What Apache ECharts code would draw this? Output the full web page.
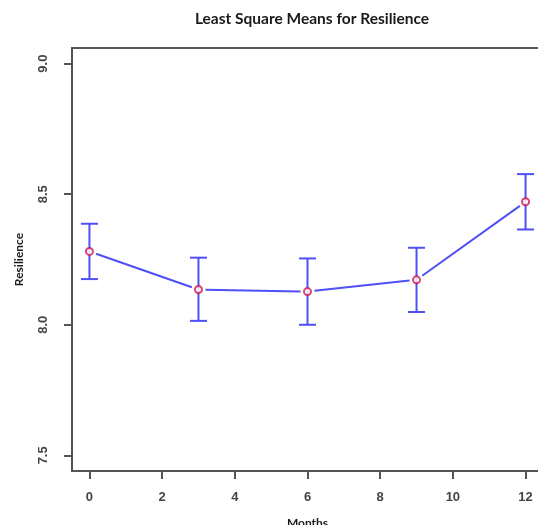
<!DOCTYPE html>
<html>
<head>
<meta charset="utf-8">
<script src="https://cdn.jsdelivr.net/npm/echarts@6/dist/echarts.min.js"></script>
<style>html,body{margin:0;padding:0;background:#fff;}#c{width:538px;height:525px;}</style>
</head>
<body>
<div id="c"></div>
<script>
var months = [0, 3, 6, 9, 12];
var lsMeans = [8.281, 8.135, 8.127, 8.172, 8.471];
var lowerCI = [8.175, 8.015, 8.000, 8.049, 8.365];
var upperCI = [8.387, 8.257, 8.254, 8.295, 8.577];
var xTicks = [0, 2, 4, 6, 8, 10, 12];
var yTicks = [7.5, 8.0, 8.5, 9.0];

var blue = '#4f4ff8';
var red = '#d0154f';
var axisGray = '#555555';

var points = months.map(function (m, i) { return [m, lsMeans[i]]; });
var bars = months.map(function (m, i) { return [m, lowerCI[i], upperCI[i]]; });
var segs = [];
for (var i = 0; i < months.length - 1; i++) {
  segs.push([months[i], lsMeans[i], months[i + 1], lsMeans[i + 1]]);
}

var chart = echarts.init(document.getElementById('c'), null, {renderer: 'canvas'});
chart.setOption({
  animation: false,
  backgroundColor: '#ffffff',
  title: {
    text: 'Least Square Means for Resilience',
    left: 307, textAlign: 'center', top: 6,
    textStyle: {fontFamily: 'Lato', fontWeight: 'bold', fontSize: 15.5, color: '#1a1a1a'}
  },
  grid: {left: 72, right: -5, top: 48, bottom: 54, outerBoundsMode: 'none', containLabel: false,
    show: true, borderColor: axisGray, borderWidth: 2, backgroundColor: 'transparent'},
  xAxis: {
    type: 'value', min: -0.48, max: 12.48,
    name: 'Months', nameLocation: 'middle', nameGap: 46,
    nameTextStyle: {fontFamily: 'Lato', fontWeight: 'bold', fontSize: 12, color: '#1a1a1a'},
    axisLine: {show: true, onZero: false, lineStyle: {color: axisGray, width: 2}},
    axisTick: {show: true, length: 8, customValues: xTicks, lineStyle: {color: axisGray, width: 2}},
    axisLabel: {customValues: xTicks, margin: 20, fontFamily: 'Liberation Sans', fontSize: 13, color: '#444', fontWeight: 'bold'},
    splitLine: {show: false}
  },
  yAxis: {
    type: 'value', min: 7.44, max: 9.06,
    name: 'Resilience', nameLocation: 'middle', nameGap: 47, nameRotate: 90,
    nameTextStyle: {fontFamily: 'Lato', fontWeight: 'bold', fontSize: 12, color: '#1a1a1a'},
    axisLine: {show: true, onZero: false, lineStyle: {color: axisGray, width: 2}},
    axisTick: {show: true, length: 8, customValues: yTicks, lineStyle: {color: axisGray, width: 2}},
    axisLabel: {customValues: yTicks, rotate: 90, margin: 22, fontFamily: 'Liberation Sans', fontSize: 13, color: '#444', fontWeight: 'bold',
      formatter: function (v) { return v.toFixed(1); }},
    splitLine: {show: false}
  },
  series: [
    {
      type: 'custom',
      data: segs,
      renderItem: function (params, api) {
        var p1 = api.coord([api.value(0), api.value(1)]);
        var p2 = api.coord([api.value(2), api.value(3)]);
        var dx = p2[0] - p1[0], dy = p2[1] - p1[1];
        var len = Math.sqrt(dx * dx + dy * dy);
        var gap = 7;
        var ux = dx / len, uy = dy / len;
        return {
          type: 'line',
          shape: {x1: p1[0] + ux * gap, y1: p1[1] + uy * gap, x2: p2[0] - ux * gap, y2: p2[1] - uy * gap},
          style: {stroke: blue, lineWidth: 2}
        };
      },
      z: 2
    },
    {
      type: 'custom',
      data: bars,
      renderItem: function (params, api) {
        var lo = api.coord([api.value(0), api.value(1)]);
        var hi = api.coord([api.value(0), api.value(2)]);
        var w = 8.5;
        return {
          type: 'group',
          children: [
            {type: 'line', shape: {x1: lo[0], y1: lo[1], x2: hi[0], y2: hi[1]}, style: {stroke: blue, lineWidth: 2}},
            {type: 'line', shape: {x1: lo[0] - w, y1: lo[1], x2: lo[0] + w, y2: lo[1]}, style: {stroke: blue, lineWidth: 2}},
            {type: 'line', shape: {x1: hi[0] - w, y1: hi[1], x2: hi[0] + w, y2: hi[1]}, style: {stroke: blue, lineWidth: 2}}
          ]
        };
      },
      z: 3
    },
    {
      type: 'scatter',
      data: points,
      symbol: 'circle',
      symbolSize: 7,
      itemStyle: {color: '#ffffff', borderColor: red, borderWidth: 2},
      z: 5
    }
  ]
});
</script>
</body>
</html>
